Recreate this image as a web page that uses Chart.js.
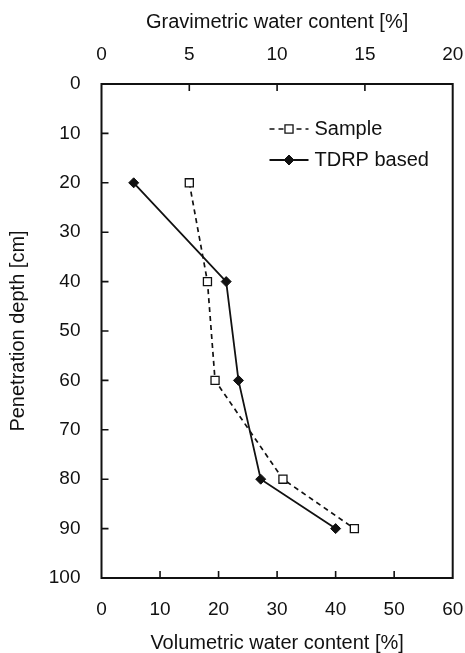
<!DOCTYPE html>
<html>
<head>
<meta charset="utf-8">
<title>Water content profile</title>
<script src="https://cdn.jsdelivr.net/npm/chart.js"></script>
<style>
  html, body { margin: 0; padding: 0; background: #fff; }
  #wrap { width: 465px; height: 653px; }
</style>
</head>
<body>
<div id="wrap"><canvas id="profileChart" width="465" height="653"></canvas></div>
<script>
// depth of each measurement (cm)
const depths = [20, 40, 60, 80, 90];
// volumetric water content (%) at each depth
const sampleVwc = [15.0, 18.1, 19.4, 31.0, 43.2];
const tdrpVwc = [5.5, 21.3, 23.4, 27.2, 40.0];

// axis tick labels
const volTicks = [0, 10, 20, 30, 40, 50, 60];
const gravTicks = [0, 5, 10, 15, 20];
const depthTicks = [0, 10, 20, 30, 40, 50, 60, 70, 80, 90, 100];

const FONT = "'Liberation Sans', Arial, sans-serif";
const INK = "#111";

const toPoints = (xs) => xs.map((v, i) => ({ x: v, y: depths[i] }));
const fixedTicks = (list) => (scale) => { scale.ticks = list.map((v) => ({ value: v })); };
// fixed box size, no extra room for overhanging edge labels
const fixSize = (size) => (s) => {
  if (s.isHorizontal()) s.height = size; else s.width = size;
  s.paddingLeft = s.paddingRight = s.paddingTop = s.paddingBottom = 0;
};

// frame around the plot + short inward tick marks
const framePlugin = {
  id: "frame",
  afterDatasetsDraw(chart) {
    const { ctx, chartArea: a, scales } = chart;
    const len = 7;
    ctx.save();
    ctx.strokeStyle = INK;
    ctx.lineWidth = 1.6;
    ctx.beginPath();
    scales.x.ticks.forEach((t) => {
      if (t.value <= scales.x.min || t.value >= scales.x.max) return;
      const px = scales.x.getPixelForValue(t.value);
      ctx.moveTo(px, a.bottom); ctx.lineTo(px, a.bottom - len);
    });
    scales.x2.ticks.forEach((t) => {
      if (t.value <= scales.x2.min || t.value >= scales.x2.max) return;
      const px = scales.x2.getPixelForValue(t.value);
      ctx.moveTo(px, a.top); ctx.lineTo(px, a.top + len);
    });
    scales.y.ticks.forEach((t) => {
      if (t.value <= scales.y.min || t.value >= scales.y.max) return;
      const py = scales.y.getPixelForValue(t.value);
      ctx.moveTo(a.left, py); ctx.lineTo(a.left + len, py);
    });
    ctx.stroke();
    ctx.lineWidth = 2;
    ctx.strokeRect(a.left, a.top, a.right - a.left, a.bottom - a.top);
    ctx.restore();
  }
};

// legend drawn inside the plot, upper right
const insideLegend = {
  id: "insideLegend",
  afterDraw(chart) {
    const { ctx, chartArea: a } = chart;
    const x0 = a.left + 168, x1 = a.left + 207, tx = a.left + 213;
    let y = a.top + 45;
    ctx.save();
    chart.data.datasets.forEach((ds) => {
      ctx.strokeStyle = ds.borderColor;
      ctx.lineWidth = ds.borderWidth;
      ctx.setLineDash(ds.borderDash || []);
      ctx.beginPath();
      ctx.moveTo(x0, y); ctx.lineTo(x1, y);
      ctx.stroke();
      ctx.setLineDash([]);
      ctx.fillStyle = ds.pointBackgroundColor;
      ctx.strokeStyle = ds.pointBorderColor;
      ctx.lineWidth = ds.pointBorderWidth;
      Chart.helpers.drawPoint(ctx, { pointStyle: ds.pointStyle, rotation: 0, radius: ds.pointRadius, borderWidth: ds.pointBorderWidth }, (x0 + x1) / 2, y);
      ctx.fillStyle = INK;
      ctx.font = "20px " + FONT;
      ctx.textBaseline = "middle";
      ctx.textAlign = "left";
      ctx.fillText(ds.label, tx, y);
      y += 31;
    });
    ctx.restore();
  }
};

new Chart(document.getElementById("profileChart"), {
  type: "scatter",
  data: {
    datasets: [
      {
        label: "Sample",
        data: toPoints(sampleVwc),
        showLine: true,
        borderColor: INK,
        borderWidth: 1.7,
        borderDash: [5, 4],
        pointStyle: "rect",
        pointRadius: 5.7,
        pointBackgroundColor: "#fff",
        pointBorderColor: INK,
        pointBorderWidth: 1.3,
        order: 1
      },
      {
        label: "TDRP based",
        data: toPoints(tdrpVwc),
        showLine: true,
        borderColor: INK,
        borderWidth: 1.8,
        pointStyle: "rectRot",
        pointRadius: 5,
        pointBackgroundColor: INK,
        pointBorderColor: INK,
        pointBorderWidth: 1,
        order: 0
      }
    ]
  },
  options: {
    responsive: false,
    animation: false,
    events: [],
    layout: { padding: { top: 0, left: 0, right: 12.3, bottom: 0 } },
    plugins: { legend: { display: false }, tooltip: { enabled: false } },
    scales: {
      x: {
        type: "linear",
        position: "bottom",
        min: 0, max: 60,
        afterBuildTicks: fixedTicks(volTicks),
        afterFit: fixSize(75),
        grid: { display: false, drawTicks: false },
        border: { display: false },
        ticks: { padding: 20, color: INK, font: { family: FONT, size: 19 }, maxRotation: 0 },
        title: { display: true, text: "Volumetric water content [%]", color: INK, padding: { top: 0, bottom: -2 }, font: { family: FONT, size: 20 } }
      },
      x2: {
        type: "linear",
        position: "top",
        min: 0, max: 20,
        afterBuildTicks: fixedTicks(gravTicks),
        afterFit: fixSize(84),
        grid: { display: false, drawTicks: false },
        border: { display: false },
        ticks: { padding: 18, color: INK, font: { family: FONT, size: 19 }, maxRotation: 0 },
        title: { display: true, text: "Gravimetric water content [%]", color: INK, padding: { top: 10, bottom: 0 }, font: { family: FONT, size: 20 } }
      },
      y: {
        type: "linear",
        position: "left",
        reverse: true,
        min: 0, max: 100,
        afterBuildTicks: fixedTicks(depthTicks),
        afterFit: fixSize(101.5),
        grid: { display: false, drawTicks: false },
        border: { display: false },
        ticks: { padding: 21, color: INK, font: { family: FONT, size: 19 } },
        title: { display: true, text: "Penetration depth [cm]", color: INK, padding: { top: 6, bottom: 0 }, font: { family: FONT, size: 20 } }
      }
    }
  },
  plugins: [framePlugin, insideLegend]
});
</script>
</body>
</html>
